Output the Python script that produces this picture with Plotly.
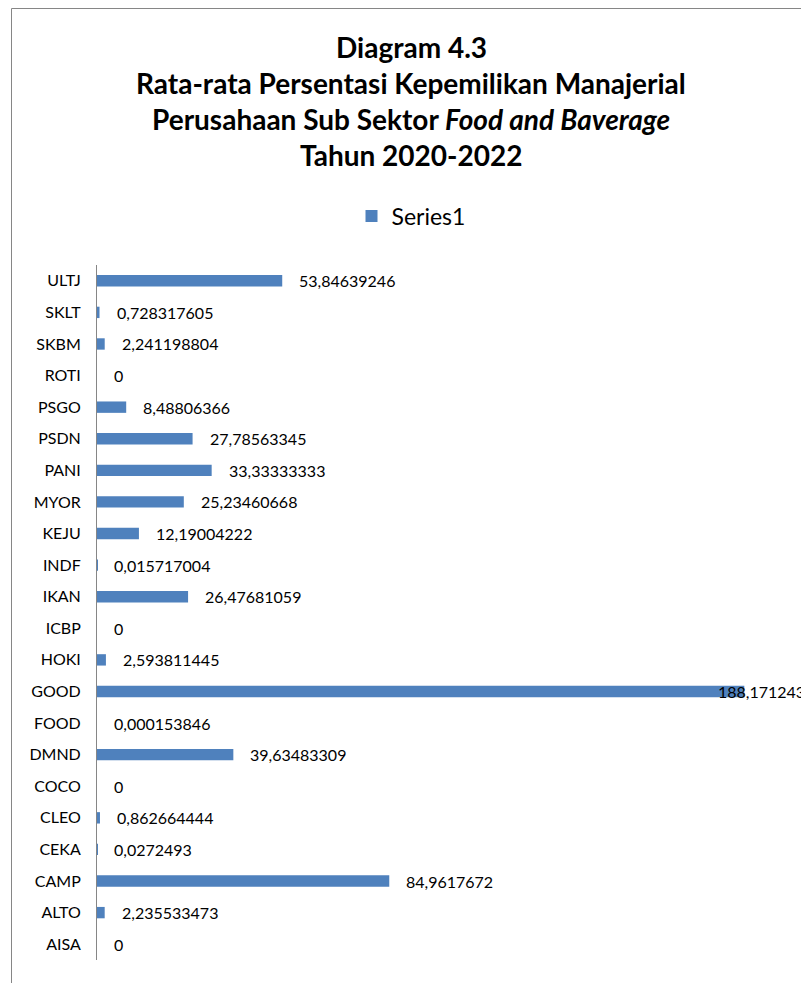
import plotly.graph_objects as go

# Data (bottom to top, as drawn)
categories = ["AISA", "ALTO", "CAMP", "CEKA", "CLEO", "COCO", "DMND", "FOOD", "GOOD",
              "HOKI", "ICBP", "IKAN", "INDF", "KEJU", "MYOR", "PANI", "PSDN", "PSGO",
              "ROTI", "SKBM", "SKLT", "ULTJ"]
values = [0, 2.235533473, 84.9617672, 0.0272493, 0.862664444, 0, 39.63483309, 0.000153846,
          188.171243, 2.593811445, 0, 26.47681059, 0.015717004, 12.19004222, 25.23460668,
          33.33333333, 27.78563345, 8.48806366, 0, 2.241198804, 0.728317605, 53.84639246]
series_name = "Series1"
title_lines = ["<b>Diagram 4.3</b>",
               "<b>Rata-rata Persentasi Kepemilikan Manajerial</b>",
               "<b>Perusahaan Sub Sektor <i>Food and Baverage</i></b>",
               "<b>Tahun 2020-2022</b>"]

W, H = 801, 983
L, R, T, B = 97, 0, 265, 23
PW, PH = W - L - R, H - T - B
PX_PER_UNIT = 3.44
XMAX = PW / PX_PER_UNIT

def px_x(p):
    return (p - L) / PW

def px_y(p):
    return (H - B - p) / PH

def fmt(v):
    return f"{v:.10g}".replace(".", ",")

BLUE = "#4F81BD"
FONT = "Lato"

fig = go.Figure()
fig.add_trace(go.Bar(
    y=categories, x=values, orientation="h", name=series_name,
    marker=dict(color=BLUE, line=dict(width=0)), showlegend=True,
    hoverinfo="skip",
))

annotations = []
# data labels
for c, v in zip(categories, values):
    end_px = L + v * PX_PER_UNIT
    shift = 15 if end_px + 110 < W else -28
    annotations.append(dict(
        x=v, y=c, xref="x", yref="y", text=fmt(v), showarrow=False,
        xanchor="left", yanchor="middle", xshift=shift,
        font=dict(family=FONT, size=16, color="#000000"),
    ))
# title lines
for i, t in enumerate(title_lines):
    annotations.append(dict(
        x=px_x(411), y=px_y(47 + 36 * i), xref="paper", yref="paper", text=t,
        showarrow=False, xanchor="center", yanchor="middle",
        font=dict(family=FONT, size=28, color="#000000"),
    ))

fig.update_layout(
    width=W, height=H, autosize=False,
    margin=dict(l=L, r=R, t=T, b=B, pad=0),
    paper_bgcolor="white", plot_bgcolor="white",
    bargap=0.64,
    font=dict(family=FONT, color="#000000"),
    xaxis=dict(range=[0, XMAX], visible=False, fixedrange=True),
    yaxis=dict(type="category", showline=True, linecolor="#868686", linewidth=1,
               ticks="", showgrid=False, zeroline=False,
               tickfont=dict(family=FONT, size=16, color="#000000"),
               ticklabelstandoff=12, fixedrange=True),
    showlegend=True,
    legend=dict(orientation="h", x=px_x(411), y=px_y(216), xanchor="center",
                yanchor="middle", font=dict(family=FONT, size=23, color="#000000"),
                bgcolor="rgba(0,0,0,0)"),
    annotations=annotations,
    shapes=[
        dict(type="line", xref="paper", yref="paper", x0=px_x(11.5), x1=px_x(11.5),
             y0=px_y(8.5), y1=px_y(1000), line=dict(color="#868686", width=1)),
        dict(type="line", xref="paper", yref="paper", x0=px_x(11.5), x1=px_x(820),
             y0=px_y(8.5), y1=px_y(8.5), line=dict(color="#868686", width=1)),
    ],
)

fig.write_html("out.html")
